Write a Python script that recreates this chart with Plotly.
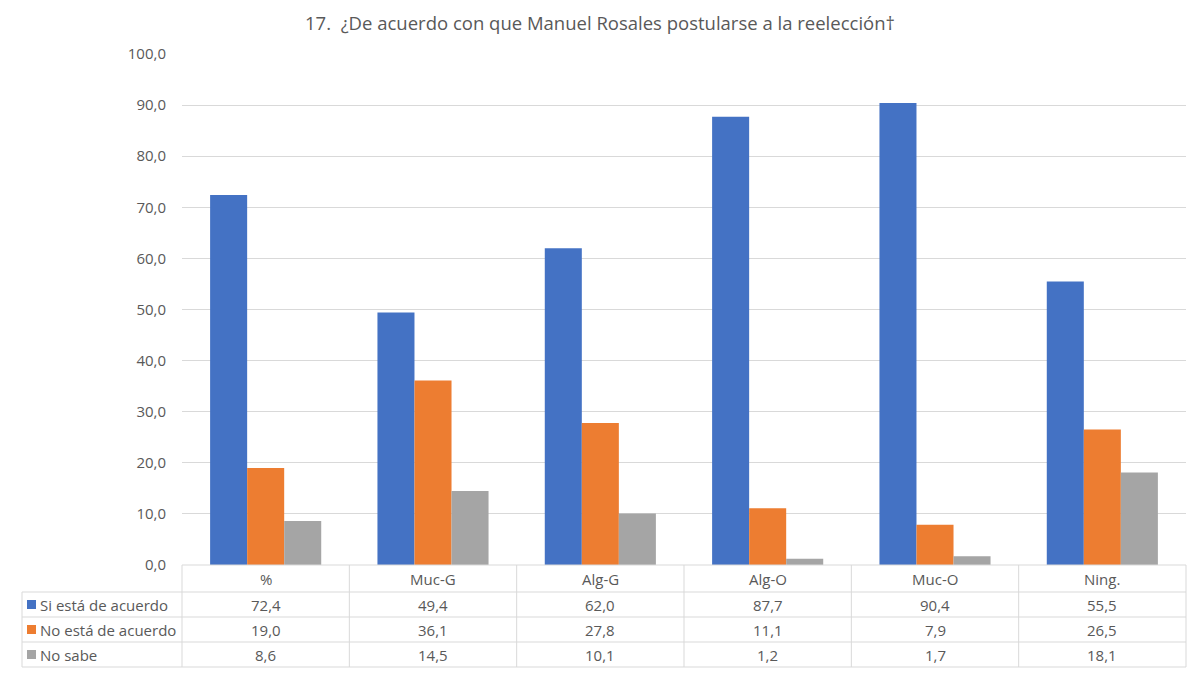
import plotly.graph_objects as go

categories = ["%", "Muc-G", "Alg-G", "Alg-O", "Muc-O", "Ning."]
series_names = ["Si está de acuerdo", "No está de acuerdo", "No sabe"]
si_acuerdo = [72.4, 49.4, 62.0, 87.7, 90.4, 55.5]
no_acuerdo = [19.0, 36.1, 27.8, 11.1, 7.9, 26.5]
no_sabe = [8.6, 14.5, 10.1, 1.2, 1.7, 18.1]
colors = ["#4472C4", "#ED7D31", "#A5A5A5"]
title_text = "17.  ¿De acuerdo con que Manuel Rosales postularse a la reelección†"

W, H = 1200, 675
L, R, T, B = 182, 1186, 54, 565
FONT = "Open Sans"
TXT = "#595959"
GRID = "#D9D9D9"

def px(xpix):
    return (xpix - L) / (R - L)

def py(ypix):
    return (B - ypix) / (B - T)

def fmt(v):
    return f"{v:.1f}".replace(".", ",")

all_series = [si_acuerdo, no_acuerdo, no_sabe]

fig = go.Figure()
for name, vals, col in zip(series_names, all_series, colors):
    fig.add_trace(go.Bar(x=categories, y=vals, name=name, marker_color=col,
                         marker_line_width=0, showlegend=False))

shapes = []
annotations = []
line = dict(color=GRID, width=1)

row_edges = [B, 592, 617, 642, 667]
left_x = 22
ncat = len(categories)
shapes.append(dict(type="line", xref="paper", yref="paper", x0=0, x1=1,
                   y0=py(B), y1=py(B), line=line))
for ye in row_edges[1:]:
    shapes.append(dict(type="line", xref="paper", yref="paper", x0=px(left_x), x1=1,
                       y0=py(ye), y1=py(ye), line=line))
for i in range(ncat + 1):
    xp = i / ncat
    shapes.append(dict(type="line", xref="paper", yref="paper", x0=xp, x1=xp,
                       y0=py(B), y1=py(row_edges[-1]), line=line))
shapes.append(dict(type="line", xref="paper", yref="paper", x0=px(left_x), x1=px(left_x),
                   y0=py(row_edges[1]), y1=py(row_edges[-1]), line=line))

hc = (row_edges[0] + row_edges[1]) / 2
for i, c in enumerate(categories):
    annotations.append(dict(x=(i + 0.5) / ncat, y=py(hc), xref="paper", yref="paper",
                            text=c, showarrow=False, xanchor="center", yanchor="middle",
                            font=dict(family=FONT, size=15, color=TXT)))
for r, (name, vals, col) in enumerate(zip(series_names, all_series, colors)):
    yc = (row_edges[r + 1] + row_edges[r + 2]) / 2
    shapes.append(dict(type="rect", xref="paper", yref="paper",
                       x0=px(27), x1=px(36), y0=py(yc + 4.5), y1=py(yc - 4.5),
                       fillcolor=col, line=dict(width=0)))
    annotations.append(dict(x=px(38), y=py(yc), xref="paper", yref="paper",
                            text=name, showarrow=False, xanchor="left", yanchor="middle",
                            font=dict(family=FONT, size=15, color=TXT)))
    for i, v in enumerate(vals):
        annotations.append(dict(x=(i + 0.5) / ncat, y=py(yc), xref="paper", yref="paper",
                                text=fmt(v), showarrow=False, xanchor="center",
                                yanchor="middle",
                                font=dict(family=FONT, size=15, color=TXT)))

annotations.append(dict(x=px(600), y=py(23), xref="paper", yref="paper", text=title_text,
                        showarrow=False, xanchor="center", yanchor="middle",
                        font=dict(family=FONT, size=18.5, color=TXT)))

fig.update_layout(
    width=W, height=H,
    margin=dict(l=L, r=W - R, t=T, b=H - B, pad=0),
    paper_bgcolor="white", plot_bgcolor="white",
    barmode="group", bargap=0.336, bargroupgap=0,
    separators=",.",
    shapes=shapes, annotations=annotations,
    xaxis=dict(showticklabels=False, showgrid=False, zeroline=False, showline=False,
               ticks="", range=[-0.5, ncat - 0.5]),
    yaxis=dict(range=[0, 100], dtick=10, tickformat=".1f", showgrid=True, gridcolor=GRID,
               gridwidth=1, zeroline=False, showline=False, ticks="", ticklabelstandoff=15,
               tickfont=dict(family=FONT, size=15, color=TXT)),
)

fig.write_html("out.html")
